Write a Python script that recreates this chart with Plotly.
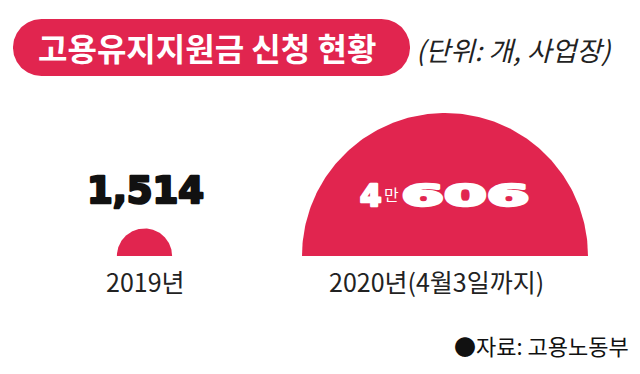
import numpy as np
import plotly.graph_objects as go

# ---- data ----
categories = ["2019년", "2020년(4월3일까지)"]
values = [1514, 40606]
value_labels = ["1,514", "4만606"]
title_text = "고용유지지원금 신청 현황"
unit_text = "(단위: 개, 사업장)"
source_text = "●자료: 고용노동부"

RED = "#E1254F"
W, H = 640, 374
KR = "Noto Sans CJK KR"
NUM = "DejaVu Sans"

centers = [144.5, 445.0]
label_x = [145.0, 436.0]
baseline = 256.0
k = 143.0 / np.sqrt(max(values))  # radius scale (area-proportional)

fig = go.Figure()

# title pill (decoration)
pr = 28.5
pl, prt, pcy = 13 + pr, 410 - pr, 47.5
t1 = np.linspace(-np.pi / 2, np.pi / 2, 60)
t2 = np.linspace(np.pi / 2, 3 * np.pi / 2, 60)
px = np.concatenate([prt + pr * np.cos(t1), pl + pr * np.cos(t2)])
py = np.concatenate([pcy + pr * np.sin(t1), pcy + pr * np.sin(t2)])
fig.add_trace(go.Scatter(x=px, y=py, mode="lines", fill="toself",
                         fillcolor=RED, line=dict(width=0, color=RED),
                         hoverinfo="skip", showlegend=False))

theta = np.linspace(0, np.pi, 181)
for cx, v in zip(centers, values):
    r = k * np.sqrt(v)
    xs = cx + r * np.cos(theta)
    ys = baseline - r * np.sin(theta)
    fig.add_trace(go.Scatter(x=xs, y=ys, mode="lines", fill="toself",
                             fillcolor=RED, line=dict(width=0, color=RED),
                             hoverinfo="skip", showlegend=False))

ann = []
ann.append(dict(x=207, y=47, text=title_text, showarrow=False,
                font=dict(family=KR, size=32, color="white", weight="bold")))
ann.append(dict(x=514, y=49, text=unit_text, showarrow=False,
                font=dict(family=KR, size=27, color="#222", style="italic")))

# value labels
ann.append(dict(x=145, y=190, text=value_labels[0], showarrow=False,
                font=dict(family=NUM, size=37, color="#111", weight="bold")))
v2 = value_labels[1]
ann.append(dict(x=371, y=195, text=v2[0], showarrow=False,
                font=dict(family=NUM, size=31, color="white", weight="bold")))
ann.append(dict(x=391, y=194, text=v2[1], showarrow=False,
                font=dict(family=KR, size=16, color="white")))
ann.append(dict(x=465, y=195, text=v2[2:], showarrow=False,
                font=dict(family=NUM, size=31, color="white", weight="bold")))

for lx, c in zip(label_x, categories):
    ann.append(dict(x=lx, y=281, text=c, showarrow=False,
                    font=dict(family=KR, size=25, color="#222")))

ann.append(dict(x=631, y=345, text=source_text, showarrow=False, xanchor="right",
                font=dict(family=KR, size=22, color="#111")))

fig.update_layout(
    width=W, height=H, margin=dict(l=0, r=0, t=0, b=0),
    paper_bgcolor="white", plot_bgcolor="white",
    xaxis=dict(range=[0, W], visible=False, fixedrange=True),
    yaxis=dict(range=[H, 0], visible=False, fixedrange=True),
    annotations=ann, showlegend=False,
)

post = """
document.body.style.margin = '0';
var gd = document.getElementById('{plot_id}');
gd.querySelectorAll('text.annotation-text').forEach(function (t) {
  var s = t.textContent;
  if (s === '606') {
    t.setAttribute('textLength', '128');
    t.setAttribute('lengthAdjust', 'spacingAndGlyphs');
  }
  if (s === '606' || s === '4') {
    t.style.stroke = 'white'; t.style.strokeWidth = '2.5px'; t.style.strokeLinejoin = 'round';
  }
  if (s === '1,514') {
    t.style.stroke = '#111'; t.style.strokeWidth = '2.5px'; t.style.strokeLinejoin = 'round';
  }
});
"""
fig.write_html("out.html", post_script=post, config={"displayModeBar": False})
